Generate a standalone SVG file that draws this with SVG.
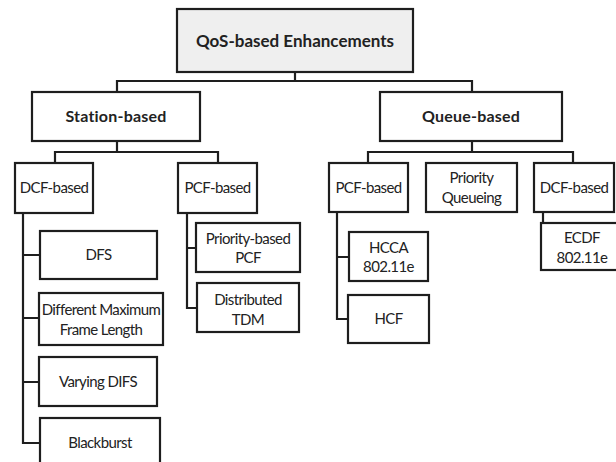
<svg xmlns="http://www.w3.org/2000/svg" width="616" height="462" viewBox="0 0 616 462">
  <style>
    .box { fill: #ffffff; stroke: #1e1e1e; stroke-width: 2.2; }
    .root { fill: #efefef; }
    .wire { fill: none; stroke: #1e1e1e; stroke-width: 2.2; stroke-linejoin: miter; }
    text { font-family: "Lato", "Open Sans", "Liberation Sans", sans-serif; fill: #222222; text-anchor: middle; }
    .h1 { font-size: 17px; font-weight: bold; }
    .h2 { font-size: 16px; font-weight: bold; letter-spacing: 0.2px; }
    .t { font-size: 15px; letter-spacing: -0.6px; }
  </style>
  <rect width="616" height="462" fill="#ffffff"/>

  <!-- connectors -->
  <g id="connectors">
    <path class="wire" d="M295,72 V81 M117,92 V81 H472 V92"/>
    <path class="wire" d="M117,141 V152 M55,163 V152 H218 V163"/>
    <path class="wire" d="M472,141 V152 M368,163 V152 H573 V163"/>
    <path class="wire" d="M23,213 V443 H40 M23,255 H40 M23,318 H39 M23,382 H39"/>
    <path class="wire" d="M187,213 V308 H197 M187,248 H196"/>
    <path class="wire" d="M337,212 V319 H348 M337,257 H349"/>
    <path class="wire" d="M543,212 V223"/>
  </g>

  <g id="qos-root">
    <rect class="box root" x="177" y="9" width="236" height="63"/>
    <text class="h1" x="295" y="47">QoS-based Enhancements</text>
  </g>
  <g id="station-based">
    <rect class="box" x="32" y="92" width="168" height="49"/>
    <text class="h2" x="116" y="122">Station-based</text>
  </g>
  <g id="queue-based">
    <rect class="box" x="380" y="92" width="182" height="49"/>
    <text class="h2" x="471" y="122">Queue-based</text>
  </g>

  <g id="station-dcf">
    <rect class="box" x="15" y="163" width="78" height="50"/>
    <text class="t" x="54" y="193">DCF-based</text>
  </g>
  <g id="station-pcf">
    <rect class="box" x="178" y="163" width="79" height="50"/>
    <text class="t" x="217.5" y="193">PCF-based</text>
  </g>
  <g id="queue-pcf">
    <rect class="box" x="329" y="163" width="79" height="49"/>
    <text class="t" x="368.5" y="193">PCF-based</text>
  </g>
  <g id="priority-queueing">
    <rect class="box" x="426" y="163" width="91" height="49"/>
    <text class="t" x="471.5" y="183">Priority</text>
    <text class="t" x="471.5" y="203">Queueing</text>
  </g>
  <g id="queue-dcf">
    <rect class="box" x="534" y="163" width="80" height="49"/>
    <text class="t" x="574" y="193">DCF-based</text>
  </g>

  <g id="dfs">
    <rect class="box" x="40" y="231" width="117" height="48"/>
    <text class="t" x="98.5" y="260">DFS</text>
  </g>
  <g id="different-max-frame">
    <rect class="box" x="39" y="293" width="124" height="52"/>
    <text class="t" x="101" y="315">Different Maximum</text>
    <text class="t" x="101" y="335">Frame Length</text>
  </g>
  <g id="varying-difs">
    <rect class="box" x="39" y="357" width="118" height="49"/>
    <text class="t" x="98" y="387">Varying DIFS</text>
  </g>
  <g id="blackburst">
    <rect class="box" x="40" y="418" width="120" height="60"/>
    <text class="t" x="100" y="448">Blackburst</text>
  </g>

  <g id="priority-based-pcf">
    <rect class="box" x="196" y="223" width="104" height="49"/>
    <text class="t" x="248" y="244">Priority-based</text>
    <text class="t" x="248" y="263">PCF</text>
  </g>
  <g id="distributed-tdm">
    <rect class="box" x="197" y="283" width="102" height="49"/>
    <text class="t" x="248" y="305">Distributed</text>
    <text class="t" x="248" y="325">TDM</text>
  </g>

  <g id="hcca">
    <rect class="box" x="349" y="232" width="79" height="49"/>
    <text class="t" x="388.5" y="253">HCCA</text>
    <text class="t" x="388.5" y="272">802.11e</text>
  </g>
  <g id="hcf">
    <rect class="box" x="348" y="295" width="81" height="48"/>
    <text class="t" x="388.5" y="324">HCF</text>
  </g>
  <g id="ecdf">
    <rect class="box" x="541" y="223" width="82" height="47"/>
    <text class="t" x="582" y="243">ECDF</text>
    <text class="t" x="582" y="263">802.11e</text>
  </g>
</svg>
